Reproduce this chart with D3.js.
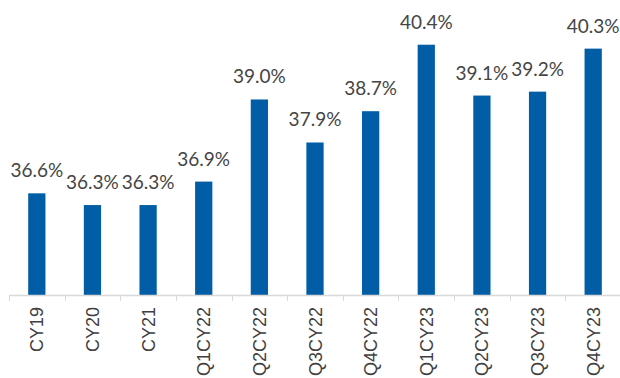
<!DOCTYPE html>
<html><head><meta charset="utf-8">
<script src="https://cdn.jsdelivr.net/npm/d3@7"></script>
<style>body{margin:0;background:#fff;} svg{display:block;}</style>
</head><body>
<svg id="c" width="620" height="378"></svg>
<script>
const categories = ["CY19","CY20","CY21","Q1CY22","Q2CY22","Q3CY22","Q4CY22","Q1CY23","Q2CY23","Q3CY23","Q4CY23"];
const values = [36.6, 36.3, 36.3, 36.9, 39.0, 37.9, 38.7, 40.4, 39.1, 39.2, 40.3];
const labels = ["36.6%","36.3%","36.3%","36.9%","39.0%","37.9%","38.7%","40.4%","39.1%","39.2%","40.3%"];

(function(){
const svg = d3.select("#c");
const left = 9, right = 621, base = 295, plotTop = 1.7;
const x = d3.scaleBand().domain(categories).range([left, right]).paddingInner(0.69).paddingOuter(0.345);
const y = d3.scaleLinear().domain([34, 41.5]).range([base, plotTop]);

svg.selectAll("rect.bar").data(values).enter().append("rect")
  .attr("class","bar")
  .attr("x",(d,i)=>x(categories[i]))
  .attr("width",x.bandwidth())
  .attr("y",d=>y(d))
  .attr("height",d=>base-y(d))
  .attr("fill","#005DA6");

svg.selectAll("text.lab").data(values).enter().append("text")
  .attr("class","lab")
  .attr("x",(d,i)=>x(categories[i])+x.bandwidth()/2)
  .attr("y",d=>y(d)-16)
  .attr("text-anchor","middle")
  .attr("font-family","Lato")
  .attr("font-size",19)
  .attr("fill","#454545")
  .text((d,i)=>labels[i]);

const xb = d3.scaleBand().domain(categories).range([left, right]);
const ax = svg.append("g").attr("transform",`translate(0,${base})`);
ax.append("line").attr("x1",left).attr("x2",right).attr("y1",0.5).attr("y2",0.5).attr("stroke","#d9d9d9").attr("stroke-width",1.5);
const ticks = categories.map(c=>xb(c)).concat([right]);
ax.selectAll("line.tk").data(ticks).enter().append("line")
  .attr("class","tk")
  .attr("x1",d=>Math.round(d)+0.5).attr("x2",d=>Math.round(d)+0.5)
  .attr("y1",0).attr("y2",6).attr("stroke","#d9d9d9").attr("stroke-width",1);
ax.selectAll("text.tl").data(categories).enter().append("text")
  .attr("class","tl")
  .attr("transform",c=>`translate(${xb(c)+xb.bandwidth()/2+6.5},12) rotate(-90)`)
  .attr("text-anchor","end")
  .attr("font-family","'Liberation Sans', Arial, sans-serif")
  .attr("font-size",18)
  .attr("fill","#404040")
  .text(c=>c);
})();
</script>
</body></html>
